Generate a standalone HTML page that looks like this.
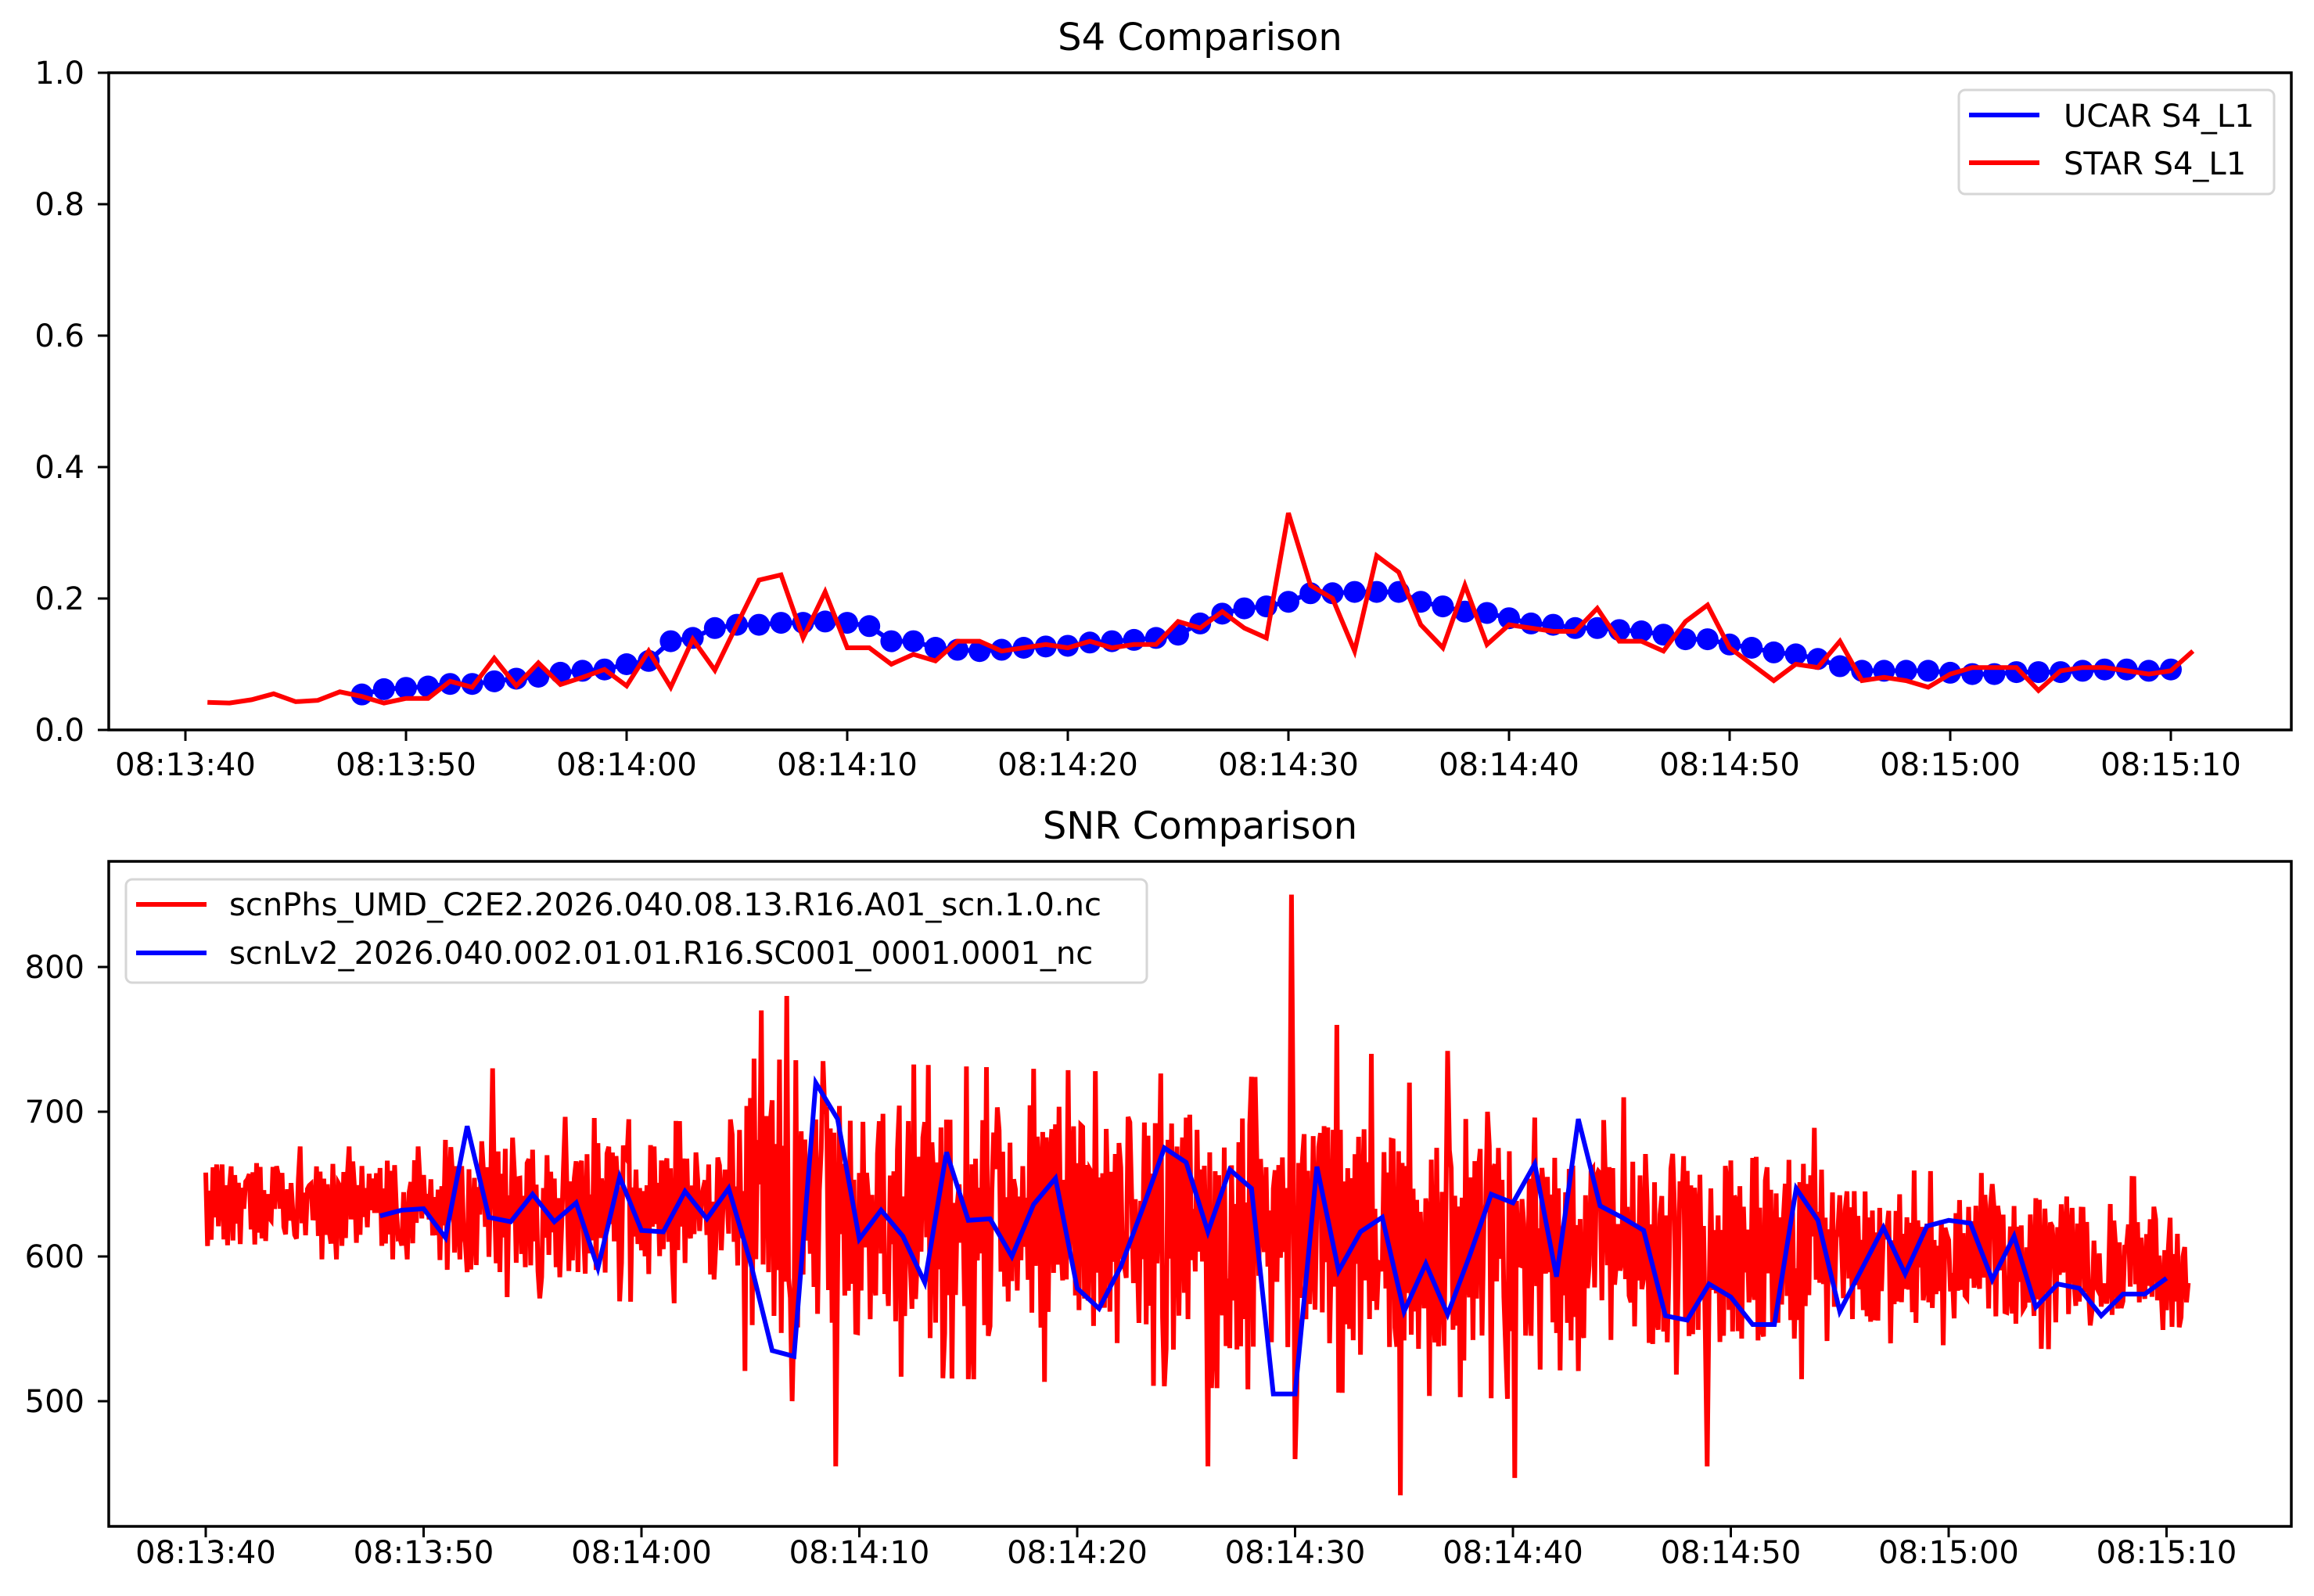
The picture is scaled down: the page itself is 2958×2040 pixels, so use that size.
<!DOCTYPE html>
<html><head><meta charset="utf-8"><style>
html,body{margin:0;padding:0;background:#fff;}
svg{display:block;}
text{font-family:"DejaVu Sans","Liberation Sans",sans-serif;fill:#000;}
</style></head><body>
<svg id="s" width="2958" height="2040" viewBox="0 0 2958 2040" xmlns="http://www.w3.org/2000/svg">
<rect width="2958" height="2040" fill="#fff"/>
<g id="g"></g>
</svg>
<script>
(function(){
var NS="http://www.w3.org/2000/svg",g=document.getElementById('g');
function el(tag,attrs,txt){var e=document.createElementNS(NS,tag);for(var k in attrs)e.setAttribute(k,attrs[k]);if(txt!==undefined)e.textContent=txt;g.appendChild(e);return e;}
// ---------- TOP ----------
var L=139,R=2929,T1=93,B1=933;
function tx1(t){return 237+28.2*t;}
function ty1(v){return B1-(B1-T1)*v;}
el('text',{x:1534,y:64,'font-size':48,'text-anchor':'middle'},'S4 Comparison');
var red=[0.042,0.041,0.046,0.055,0.043,0.045,0.058,0.051,0.041,0.048,0.048,0.074,0.065,0.109,0.067,0.102,0.069,0.080,0.092,0.067,0.12,0.065,0.138,0.091,0.16,0.228,0.236,
0.14,0.21,0.125,0.125,0.10,0.115,0.105,0.135,0.135,0.12,0.125,0.13,0.125,0.135,0.125,0.13,0.13,0.165,0.155,0.18,0.155,0.14,0.33,0.22,0.2,0.12,0.265,0.24,0.16,0.125,
0.22,0.13,0.16,0.155,0.15,0.15,0.185,0.135,0.135,0.12,0.165,0.19,0.125,0.10,0.075,0.10,0.095,0.135,0.075,0.08,0.075,0.065,0.085,0.095,0.095,0.095,0.06,0.09,0.095,0.095,0.09,0.085,0.09,0.12];
var blue=[.054,.062,.064,.066,.07,.07,.074,.078,.081,.087,.09,.092,.10,.105,.135,.14,.155,.16,.16,.163,.163,.165,.163,.158,.135,.135,.125,.122,.12,.122,.125,.127,.128,.133,.135,.137,.14,.145,.162,.177,.185,.188,.195,.208,.208,.21,.21,.21,.195,.188,.18,.178,.17,.162,.16,.155,.155,.152,.15,.145,.138,.138,.13,.125,.118,.115,.108,.097,.09,.09,.09,.09,.087,.085,.085,.088,.088,.088,.09,.092,.092,.09,.092];
var p='';blue.forEach(function(v,i){p+=(i?'L':'M')+tx1(8+i).toFixed(1)+','+ty1(v).toFixed(1);});
el('path',{d:p,fill:'none',stroke:'#00f','stroke-width':6});
blue.forEach(function(v,i){el('circle',{cx:tx1(8+i),cy:ty1(v),r:14,fill:'#00f'});});
p='';red.forEach(function(v,i){p+=(i?'L':'M')+tx1(1+i).toFixed(1)+','+ty1(v).toFixed(1);});
el('path',{d:p,fill:'none',stroke:'#f00','stroke-width':6,'stroke-linejoin':'miter'});
el('rect',{x:L,y:T1,width:R-L,height:B1-T1,fill:'none',stroke:'#000','stroke-width':3.5});
for(var i=0;i<=5;i++){var v=i*0.2,y=ty1(v);el('line',{x1:L-14,x2:L,y1:y,y2:y,stroke:'#000','stroke-width':3});el('text',{x:108,y:y+14,'font-size':40,'text-anchor':'end'},v.toFixed(1));}
var labs=['08:13:40','08:13:50','08:14:00','08:14:10','08:14:20','08:14:30','08:14:40','08:14:50','08:15:00','08:15:10'];
labs.forEach(function(s,i){var x=tx1(i*10);el('line',{x1:x,x2:x,y1:B1,y2:B1+14,stroke:'#000','stroke-width':3});el('text',{x:x,y:991,'font-size':40,'text-anchor':'middle'},s);});
el('rect',{x:2504,y:115,width:403,height:133,rx:8,fill:'#fff','fill-opacity':0.8,stroke:'#d6d6d6','stroke-width':3});
el('line',{x1:2517,x2:2607,y1:147,y2:147,stroke:'#00f','stroke-width':6});
el('line',{x1:2517,x2:2607,y1:208,y2:208,stroke:'#f00','stroke-width':6});
el('text',{x:2638,y:162,'font-size':40},'UCAR S4_L1');
el('text',{x:2638,y:223,'font-size':40},'STAR S4_L1');
// ---------- BOTTOM ----------
var T2=1101,B2=1951;
function tx2(t){return 263+27.85*t;}
function ty2(v){return 1236-(v-800)*1.85;}
el('text',{x:1534,y:1072,'font-size':48,'text-anchor':'middle'},'SNR Comparison');
var seed=12345;function rnd(){seed=(seed*1103515245+12345)&0x7fffffff;return seed/0x7fffffff;}
function mean(t){if(t<10)return 637;return 637-(t-10)*0.55;}
function amp(t){if(t<11)return 26;if(t<24)return 42;if(t<30)return 72;if(t<60)return 72;if(t<74)return 58;return 40;}
var HZ=12;
var spikes={};
function sp(t,v){spikes[Math.round(t*HZ)]=v;}
sp(25.5,770);sp(26.7,780);sp(26.9,500);sp(28.9,455);sp(46.0,455);sp(49.8,850);sp(50.0,460);sp(51.9,760);sp(53.5,740);sp(54.8,435);sp(54.5,680);sp(57,742);sp(57.8,695);sp(60.1,447);sp(68.9,455);sp(58.8,700);sp(65.1,710);sp(74.2,660);sp(82,650);sp(13.2,730);sp(28.3,735);
p='';var n=91*HZ,sgn=1;
for(var k=0;k<=n;k++){var t=k/HZ;var a=amp(t);var r=rnd();var v=mean(t)+sgn*a*(0.15+1.0*r);
 if(rnd()<0.06)v=mean(t)+sgn*a*1.5;
 sgn=rnd()<0.8?-sgn:sgn;
 if(spikes[k]!==undefined)v=spikes[k];
 p+=(k?'L':'M')+tx2(t).toFixed(1)+','+ty2(v).toFixed(1);}
el('path',{d:p,fill:'none',stroke:'#f00','stroke-width':6,'stroke-linejoin':'miter'});
var b2=[628,632,633,613,690,627,624,643,624,637,592,655,618,617,645,626,647,596,535,531,720,695,612,632,614,582,672,625,626,600,636,654,578,564,593,633,675,665,617,660,647,505,505,662,590,617,627,562,595,560,600,643,637,664,586,695,635,627,618,559,556,581,572,553,553,647,625,562,591,620,588,621,625,623,584,614,565,581,578,559,574,574,585];
p='';b2.forEach(function(v,i){p+=(i?'L':'M')+tx2(8+i).toFixed(1)+','+ty2(v).toFixed(1);});
el('path',{d:p,fill:'none',stroke:'#00f','stroke-width':6});
el('rect',{x:L,y:T2,width:R-L,height:B2-T2,fill:'none',stroke:'#000','stroke-width':3.5});
[500,600,700,800].forEach(function(v){var y=ty2(v);el('line',{x1:L-14,x2:L,y1:y,y2:y,stroke:'#000','stroke-width':3});el('text',{x:108,y:y+14,'font-size':40,'text-anchor':'end'},v);});
labs.forEach(function(s,i){var x=tx2(i*10);el('line',{x1:x,x2:x,y1:B2,y2:B2+14,stroke:'#000','stroke-width':3});el('text',{x:x,y:1998,'font-size':40,'text-anchor':'middle'},s);});
el('rect',{x:161,y:1124,width:1305,height:132,rx:8,fill:'#fff','fill-opacity':0.8,stroke:'#d6d6d6','stroke-width':3});
el('line',{x1:174,x2:264,y1:1156,y2:1156,stroke:'#f00','stroke-width':6});
el('line',{x1:174,x2:264,y1:1218,y2:1218,stroke:'#00f','stroke-width':6});
el('text',{x:293,y:1170,'font-size':40},'scnPhs_UMD_C2E2.2026.040.08.13.R16.A01_scn.1.0.nc');
el('text',{x:293,y:1232,'font-size':40},'scnLv2_2026.040.002.01.01.R16.SC001_0001.0001_nc');
})();
</script>
</body></html>
